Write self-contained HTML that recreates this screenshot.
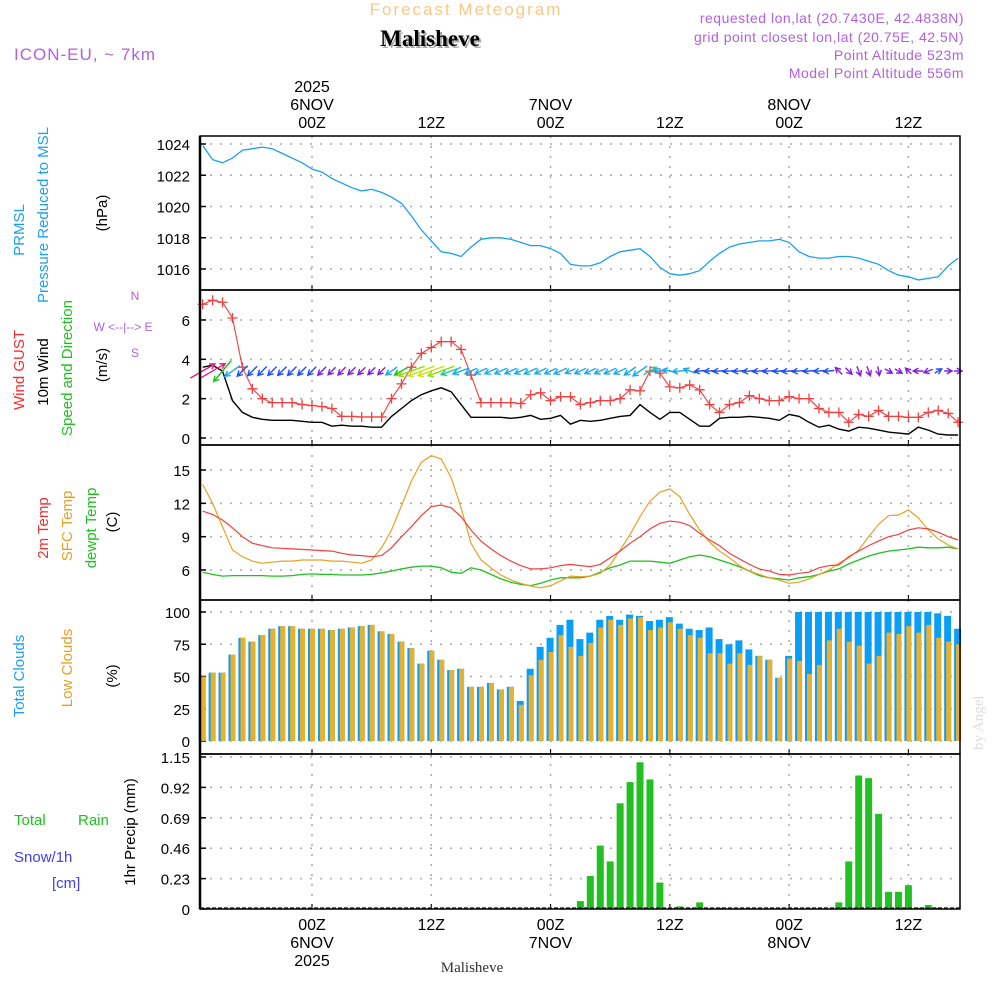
<!DOCTYPE html>
<html><head><meta charset="utf-8"><style>
html,body{margin:0;padding:0;background:#fff;}
svg{display:block;font-family:"Liberation Sans",sans-serif;}
</style></head><body>
<svg id="chart" width="1000" height="1000" viewBox="0 0 1000 1000">
<g id="header">
<text x="466" y="15" text-anchor="middle" font-size="17" fill="#f5c98a" letter-spacing="2">Forecast Meteogram</text>
<text x="432" y="48" text-anchor="middle" font-size="23" font-weight="bold" font-family="Liberation Serif, serif" fill="#aaa">Malisheve</text>
<text x="430" y="46" text-anchor="middle" font-size="23" font-weight="bold" font-family="Liberation Serif, serif" fill="#000">Malisheve</text>
<text x="14" y="60" font-size="17" fill="#b060e0" letter-spacing="1">ICON-EU, ~ 7km</text>
<text x="964" y="23" text-anchor="end" font-size="14" fill="#b060e0" letter-spacing="0.5">requested lon,lat (20.7430E, 42.4838N)</text>
<text x="964" y="42" text-anchor="end" font-size="14" fill="#b060e0" letter-spacing="0.5">grid point closest lon,lat (20.75E, 42.5N)</text>
<text x="964" y="60" text-anchor="end" font-size="14" fill="#b060e0" letter-spacing="0.5">Point Altitude 523m</text>
<text x="964" y="78" text-anchor="end" font-size="14" fill="#b060e0" letter-spacing="0.5">Model Point Altitude 556m</text>
<text x="472" y="972" text-anchor="middle" font-size="15" font-family="Liberation Serif, serif" fill="#333">Malisheve</text>
<text x="0" y="0" transform="translate(983,750) rotate(-90)" font-size="15" font-family="Liberation Serif, serif" fill="#ddd">by Angel</text>
</g>
<g id="labels">
<text transform="translate(24,230) rotate(-90)" text-anchor="middle" font-size="15" fill="#1aa0f0">PRMSL</text>
<text transform="translate(48,215) rotate(-90)" text-anchor="middle" font-size="15" fill="#1aa0f0">Pressure Reduced to MSL</text>
<text transform="translate(107,213) rotate(-90)" text-anchor="middle" font-size="15" fill="#000">(hPa)</text>
<text transform="translate(24,370) rotate(-90)" text-anchor="middle" font-size="15" fill="#f03030">Wind GUST</text>
<text transform="translate(48,372) rotate(-90)" text-anchor="middle" font-size="15" fill="#000">10m Wind</text>
<text transform="translate(72,368) rotate(-90)" text-anchor="middle" font-size="15" fill="#20c020">Speed and Direction</text>
<text transform="translate(107,365) rotate(-90)" text-anchor="middle" font-size="15" fill="#000">(m/s)</text>
<text x="135" y="300" text-anchor="middle" font-size="12" fill="#b060e0">N</text>
<text x="123" y="331" text-anchor="middle" font-size="12" fill="#b060e0">W &lt;--|--&gt; E</text>
<text x="135" y="357" text-anchor="middle" font-size="12" fill="#b060e0">S</text>
<text transform="translate(48,528) rotate(-90)" text-anchor="middle" font-size="15" fill="#f03030">2m Temp</text>
<text transform="translate(72,526) rotate(-90)" text-anchor="middle" font-size="15" fill="#e8a020">SFC Temp</text>
<text transform="translate(96,528) rotate(-90)" text-anchor="middle" font-size="15" fill="#20c020">dewpt Temp</text>
<text transform="translate(117,522) rotate(-90)" text-anchor="middle" font-size="15" fill="#000">(C)</text>
<text transform="translate(24,676) rotate(-90)" text-anchor="middle" font-size="15" fill="#1aa0f0">Total Clouds</text>
<text transform="translate(72,668) rotate(-90)" text-anchor="middle" font-size="15" fill="#e8a020">Low Clouds</text>
<text transform="translate(117,676) rotate(-90)" text-anchor="middle" font-size="15" fill="#000">(%)</text>
<text transform="translate(135,832) rotate(-90)" text-anchor="middle" font-size="15" fill="#000">1hr Precip (mm)</text>
<text x="14" y="825" font-size="15" fill="#20c020">Total</text>
<text x="78" y="825" font-size="15" fill="#20c020">Rain</text>
<text x="14" y="862" font-size="15" fill="#4040f0">Snow/1h</text>
<text x="52" y="888" font-size="15" fill="#4040f0">[cm]</text>
</g>
<g id="plot"></g>
</svg>
<script>
const hours=[];for(let h=-11;h<=65;h++)hours.push(h);
const pressure=[1023.9,1023.0,1022.8,1023.1,1023.6,1023.7,1023.8,1023.7,1023.4,1023.1,1022.8,1022.4,1022.2,1021.8,1021.5,1021.2,1021.0,1021.1,1020.9,1020.6,1020.2,1019.4,1018.5,1017.8,1017.1,1017.0,1016.8,1017.4,1017.9,1018.0,1018.0,1017.9,1017.7,1017.5,1017.5,1017.3,1017.0,1016.3,1016.2,1016.2,1016.4,1016.8,1017.1,1017.2,1017.3,1016.8,1016.1,1015.7,1015.6,1015.7,1015.9,1016.5,1017.0,1017.4,1017.6,1017.7,1017.8,1017.8,1017.9,1017.7,1017.1,1016.8,1016.7,1016.7,1016.8,1016.8,1016.7,1016.5,1016.3,1015.9,1015.6,1015.5,1015.3,1015.4,1015.5,1016.2,1016.7];
const wind10m=[3.6,3.7,3.4,1.9,1.3,1.05,0.95,0.9,0.9,0.9,0.85,0.8,0.8,0.6,0.65,0.6,0.6,0.55,0.55,1.1,1.5,1.9,2.2,2.4,2.55,2.35,1.7,1.05,1.05,1.05,1.05,1.0,1.05,1.15,0.95,1.0,1.15,0.7,0.9,0.85,0.9,1.0,1.1,1.15,1.7,1.3,0.95,1.3,1.3,0.95,0.6,0.6,1.0,1.05,1.05,1.1,1.05,1.0,0.9,1.2,1.1,0.8,0.55,0.65,0.45,0.35,0.55,0.5,0.4,0.3,0.25,0.2,0.55,0.4,0.2,0.15,0.15];
const windGust=[6.8,7.0,6.9,6.1,3.6,2.5,2.0,1.8,1.8,1.8,1.7,1.65,1.6,1.5,1.1,1.1,1.07,1.07,1.07,2.0,2.75,3.6,4.3,4.6,4.9,4.9,4.5,3.2,1.8,1.8,1.8,1.8,1.75,2.2,2.3,1.9,2.1,2.1,1.7,1.8,1.9,1.9,2.0,2.45,2.4,3.4,3.3,2.6,2.55,2.7,2.45,1.7,1.3,1.7,1.8,2.15,2.0,1.9,1.9,2.1,2.0,2.0,1.5,1.3,1.3,0.8,1.2,1.1,1.4,1.1,1.1,1.05,1.05,1.3,1.4,1.25,0.8];
const windDir=[30,30,230,215,225,225,225,225,225,225,225,225,225,225,225,225,225,225,225,215,210,200,200,200,200,200,200,205,205,205,205,205,205,205,205,205,205,205,205,205,205,205,205,215,215,30,180,170,185,160,185,185,185,185,185,185,185,185,185,185,185,185,185,185,135,315,290,290,280,330,330,135,180,200,30,0,0];
const windCat=[0,0,1,2,3,3,3,3,3,3,3,3,4,4,4,4,4,4,4,2,1,5,6,6,5,7,2,2,2,2,2,2,2,2,2,2,2,2,2,2,2,2,2,2,2,7,2,2,2,2,3,3,3,3,3,3,3,3,3,3,3,3,3,3,4,4,4,4,4,4,4,4,4,4,3,4,4];
const temp2m=[11.3,11.0,10.5,9.8,9.0,8.4,8.2,8.0,7.95,7.9,7.85,7.8,7.75,7.7,7.5,7.35,7.3,7.2,7.3,8.0,9.0,9.9,10.9,11.7,11.85,11.6,10.8,9.6,8.6,7.9,7.3,6.8,6.4,6.1,6.1,6.2,6.4,6.5,6.4,6.3,6.5,7.1,7.7,8.4,9.0,9.7,10.2,10.4,10.3,10.0,9.3,8.7,8.2,7.5,7.0,6.5,6.1,5.9,5.6,5.55,5.7,5.8,6.2,6.4,6.45,7.2,7.7,8.2,8.6,9.0,9.2,9.6,9.8,9.7,9.4,9.0,8.7];
const tempSfc=[13.7,12.0,9.9,7.8,7.2,6.8,6.6,6.7,6.8,6.8,6.9,6.9,6.9,6.8,6.8,6.7,6.6,6.9,8.0,9.6,11.8,14.0,15.7,16.3,16.0,14.3,11.6,8.4,6.9,6.2,5.55,5.1,4.8,4.55,4.4,4.6,5.0,5.45,5.4,5.45,5.7,6.45,7.8,9.2,10.8,12.2,13.0,13.3,12.6,11.0,9.6,8.5,7.7,7.1,6.4,5.9,5.6,5.3,5.1,4.8,4.9,5.2,5.6,6.0,6.6,7.1,7.8,9.0,10.1,10.9,10.95,11.4,10.7,9.6,8.8,8.25,7.9];
const dewpt=[5.8,5.6,5.45,5.5,5.5,5.5,5.5,5.45,5.45,5.5,5.6,5.65,5.6,5.6,5.55,5.55,5.55,5.6,5.75,5.9,6.1,6.25,6.35,6.35,6.2,5.8,5.7,6.2,6.0,5.6,5.2,4.9,4.7,4.6,4.8,5.1,5.3,5.3,5.3,5.45,5.8,6.2,6.45,6.8,6.8,6.8,6.7,6.6,6.9,7.2,7.35,7.2,6.9,6.6,6.3,5.9,5.5,5.3,5.2,5.1,5.3,5.4,5.6,5.9,6.1,6.55,6.9,7.25,7.5,7.7,7.8,7.9,8.05,8.0,8.0,8.05,7.9];
const cloudTotal=[50,53,53,67,80,77,82,87,89,89,87,87,87,86,87,88,89,90,85,83,77,72,60,70,63,55,56,42,42,45,40,42,31,56,73,80,90,94,79,84,94,97,94,98,97,93,94,96,91,87,86,88,79,75,78,71,66,63,49,66,100,100,100,100,100,100,100,100,100,100,100,100,100,100,99,97,87];
const cloudLow=[50,53,53,67,80,77,82,87,89,89,87,87,87,86,87,88,89,90,85,83,77,72,60,70,63,55,56,42,42,45,40,42,28,51,63,69,82,73,66,76,88,94,90,95,96,86,88,92,87,82,80,68,68,60,68,59,66,63,49,64,62,52,59,78,87,77,74,60,66,84,83,89,84,90,80,77,75];
const precip=[0,0,0,0,0,0,0,0,0,0,0,0,0,0,0,0,0,0,0,0,0,0,0,0,0,0,0,0,0,0,0,0,0,0,0,0,0,0,0.06,0.25,0.48,0.36,0.8,0.96,1.11,0.98,0.2,0,0.02,0,0.05,0,0.01,0,0,0,0,0,0,0,0,0,0,0,0.05,0.36,1.01,0.99,0.72,0.13,0.13,0.18,0.01,0.03,0.01,0,0];
const pTicks=[1016,1018,1020,1022,1024];
const wTicks=[0,2,4,6];
const tTicks=[6,9,12,15];
const cTicks=[0,25,50,75,100];
const rTicks=["0","0.23","0.46","0.69","0.92","1.15"];
const timeTicks=[{h:0,l:["00Z","6NOV","2025"]},{h:12,l:["12Z"]},{h:24,l:["00Z","7NOV"]},{h:36,l:["12Z"]},{h:48,l:["00Z","8NOV"]},{h:60,l:["12Z"]}];

const NS="http://www.w3.org/2000/svg";
const g=document.getElementById('plot');
function el(tag,attrs,parent){const e=document.createElementNS(NS,tag);for(const k in attrs)e.setAttribute(k,attrs[k]);(parent||g).appendChild(e);return e;}
const X=h=>312+h*9.94;
const yP=v=>144+(1024-v)*15.625;
const yW=v=>438-v*19.67;
const yT=v=>570-(v-6)*11.11;
const yC=v=>741-v*1.29;
const yR=v=>909-v*(152/1.15);
const L=200,R=960;
const panels=[{t:136,b:290,name:'pressure'},{t:290,b:445,name:'wind'},{t:445,b:600,name:'temperature'},{t:600,b:754,name:'clouds'},{t:754,b:909,name:'precip'}];

function hgrid(vals,fy,fmt,pname){
  vals.forEach(v=>{
    const y=fy(parseFloat(v));
    const gl=el('line',{x1:L,x2:R,y1:y,y2:y,stroke:'#aaa','stroke-width':1.5,'stroke-dasharray':'2,8'});
    
    
    const tk=el('line',{x1:L,x2:L+6,y1:y,y2:y,stroke:'#000','stroke-width':1.5});
    
    
    const t=el('text',{x:190,y:y+6,'text-anchor':'end','font-size':15,fill:'#000'});
    t.textContent=fmt?fmt(v):v;
    
    
  });
}
panels.forEach(p=>{
  timeTicks.forEach(tt=>{
    const x=X(tt.h);
    const vl=el('line',{x1:x,x2:x,y1:p.t,y2:p.b,stroke:'#aaa','stroke-width':1.5,'stroke-dasharray':'2,8'});
    
    
    const tk=el('line',{x1:x,x2:x,y1:p.b-5,y2:p.b,stroke:'#000','stroke-width':1});
    
    
  });
});
hgrid(pTicks,yP,null,'pressure');
hgrid(wTicks,yW,null,'wind');
hgrid(tTicks,yT,null,'temp');
hgrid(cTicks,yC,null,'cloud');
hgrid(rTicks,yR,null,'precip');

function line(data,fy,color,name,w){
  const d=data.map((v,i)=>(i?'L':'M')+X(hours[i]).toFixed(1)+','+fy(v).toFixed(1)).join('');
  const p=el('path',{d:d,fill:'none',stroke:color,'stroke-width':w||1.3});
  
  
  return p;
}
hours.forEach((h,i)=>{
  const x=X(h);
  const b=el('rect',{x:x-4,y:yC(cloudTotal[i]),width:7,height:741-yC(cloudTotal[i]),fill:'#0a9ef5'});
  
  
  const o=el('rect',{x:x-2,y:yC(cloudLow[i]),width:5,height:741-yC(cloudLow[i]),fill:'#e8b030'});
  
  
});
hours.forEach((h,i)=>{
  if(precip[i]<=0)return;
  const x=X(h);
  const b=el('rect',{x:x-3.5,y:yR(precip[i]),width:7,height:909-yR(precip[i]),fill:'#22c022'});
  
  
});
const zl=el('line',{x1:L,x2:R,y1:908,y2:908,stroke:'#333','stroke-width':1.5,'stroke-dasharray':'4,2'});


line(pressure,yP,'#1aa0f0','pressure-line',1.3);
line(wind10m,yW,'#000','wind-10m-line',1.4);
line(windGust,yW,'#f04040','wind-gust-line',1.1);
hours.forEach((h,i)=>{
  const x=X(h),y=yW(windGust[i]);
  const m=el('path',{d:`M${x-5},${y}h10M${x},${y-5}v10`,stroke:'#f04040','stroke-width':1.3});
  
  
});
const palette=['#e02080','#20c020','#1aa8f0','#2050f0','#8020e0','#90e010','#c8e020','#20c898'];
hours.forEach((h,i)=>{
  let len=Math.min(30,7+6*wind10m[i]);
  if(windCat[i]===5||windCat[i]===6)len=Math.max(len,28);
  const a=windDir[i]*Math.PI/180;
  const dx=Math.cos(a)*len,dy=-Math.sin(a)*len;
  const cx=X(h),cy=371;
  const hx=cx+dx/2,hy=cy+dy/2,tx=cx-dx/2,ty=cy-dy/2;
  const a1=a+Math.PI-0.5,a2=a+Math.PI+0.5;
  const c=palette[windCat[i]];
  const d=`M${tx.toFixed(1)},${ty.toFixed(1)}L${hx.toFixed(1)},${hy.toFixed(1)}M${(hx+Math.cos(a1)*6).toFixed(1)},${(hy-Math.sin(a1)*6).toFixed(1)}L${hx.toFixed(1)},${hy.toFixed(1)}L${(hx+Math.cos(a2)*6).toFixed(1)},${(hy-Math.sin(a2)*6).toFixed(1)}`;
  const p=el('path',{d:d,fill:'none',stroke:c,'stroke-width':1.4});
  
  
});
line(dewpt,yT,'#20c020','dewpoint-line',1.3);
line(tempSfc,yT,'#e8a020','sfc-temp-line',1.2);
line(temp2m,yT,'#f04040','temp-2m-line',1.2);
panels.forEach(p=>{
  const r=el('rect',{x:L,y:p.t,width:R-L,height:p.b-p.t,fill:'none',stroke:'#000','stroke-width':1.5});
  
  
  const lft=el('line',{x1:L,x2:L,y1:p.t,y2:p.b,stroke:'#000','stroke-width':2.5});
  
  
});
timeTicks.forEach(tt=>{
  const x=X(tt.h);
  const topY=[128,110,92];
  tt.l.forEach((s,k)=>{
    const t=el('text',{x:x,y:topY[k],'text-anchor':'middle','font-size':16,fill:'#000'});
    t.textContent=s;
    
    
  });
  const botY=[930,948,966];
  tt.l.forEach((s,k)=>{
    const t=el('text',{x:x,y:botY[k],'text-anchor':'middle','font-size':16,fill:'#000'});
    t.textContent=s;
    
    
  });
});
</script>
</body></html>
